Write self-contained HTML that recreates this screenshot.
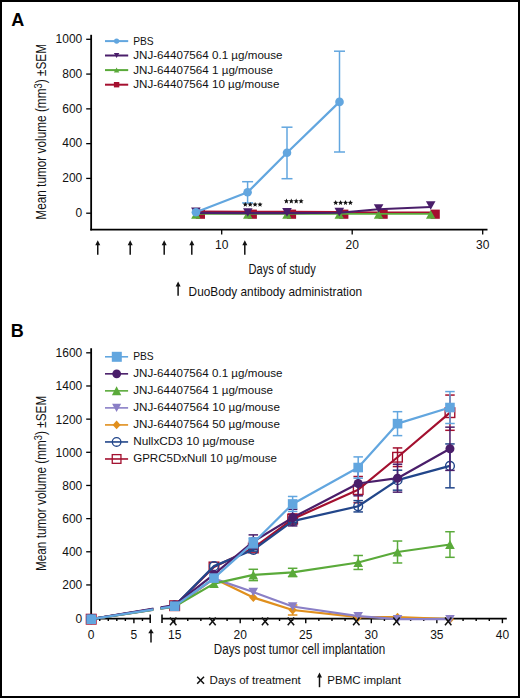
<!DOCTYPE html>
<html><head><meta charset="utf-8"><style>
html,body{margin:0;padding:0;background:#fff;}
svg{display:block;}
text{font-family:"Liberation Sans", sans-serif;}
</style></head><body>
<svg width="520" height="698" viewBox="0 0 520 698" style='font-family:"Liberation Sans", sans-serif'>
<rect x="0" y="0" width="520" height="698" fill="#fff"/>
<text x="11.20" y="25.50" font-size="18" text-anchor="start" font-weight="bold" fill="#000" >A</text>
<line x1="91.15" y1="34.80" x2="91.15" y2="230.40" stroke="#000" stroke-width="1.8" />
<line x1="90.30" y1="229.60" x2="487.50" y2="229.60" stroke="#000" stroke-width="1.9" />
<line x1="86.20" y1="213.20" x2="91.00" y2="213.20" stroke="#000" stroke-width="1.3" />
<text x="82.30" y="217.00" font-size="12" text-anchor="end" font-weight="normal" fill="#111" >0</text>
<line x1="86.20" y1="178.42" x2="91.00" y2="178.42" stroke="#000" stroke-width="1.3" />
<text x="82.30" y="182.22" font-size="12" text-anchor="end" font-weight="normal" fill="#111" >200</text>
<line x1="86.20" y1="143.64" x2="91.00" y2="143.64" stroke="#000" stroke-width="1.3" />
<text x="82.30" y="147.44" font-size="12" text-anchor="end" font-weight="normal" fill="#111" >400</text>
<line x1="86.20" y1="108.86" x2="91.00" y2="108.86" stroke="#000" stroke-width="1.3" />
<text x="82.30" y="112.66" font-size="12" text-anchor="end" font-weight="normal" fill="#111" >600</text>
<line x1="86.20" y1="74.08" x2="91.00" y2="74.08" stroke="#000" stroke-width="1.3" />
<text x="82.30" y="77.88" font-size="12" text-anchor="end" font-weight="normal" fill="#111" >800</text>
<line x1="86.20" y1="39.30" x2="91.00" y2="39.30" stroke="#000" stroke-width="1.3" />
<text x="82.30" y="43.10" font-size="12" text-anchor="end" font-weight="normal" fill="#111" >1000</text>
<line x1="221.70" y1="229.60" x2="221.70" y2="234.40" stroke="#000" stroke-width="1.3" />
<text x="221.70" y="249.10" font-size="12" text-anchor="middle" font-weight="normal" fill="#111" >10</text>
<line x1="352.20" y1="229.60" x2="352.20" y2="234.40" stroke="#000" stroke-width="1.3" />
<text x="352.20" y="249.10" font-size="12" text-anchor="middle" font-weight="normal" fill="#111" >20</text>
<line x1="482.70" y1="229.60" x2="482.70" y2="234.40" stroke="#000" stroke-width="1.3" />
<text x="482.70" y="249.10" font-size="12" text-anchor="middle" font-weight="normal" fill="#111" >30</text>
<line x1="97.75" y1="244.70" x2="97.75" y2="254.80" stroke="#111" stroke-width="1.5" />
<polygon points="97.75,240.20 100.25,245.20 95.25,245.20" fill="#111"/>
<line x1="130.20" y1="244.70" x2="130.20" y2="254.80" stroke="#111" stroke-width="1.5" />
<polygon points="130.20,240.20 132.70,245.20 127.70,245.20" fill="#111"/>
<line x1="164.20" y1="244.70" x2="164.20" y2="254.80" stroke="#111" stroke-width="1.5" />
<polygon points="164.20,240.20 166.70,245.20 161.70,245.20" fill="#111"/>
<line x1="191.80" y1="244.70" x2="191.80" y2="254.80" stroke="#111" stroke-width="1.5" />
<polygon points="191.80,240.20 194.30,245.20 189.30,245.20" fill="#111"/>
<line x1="244.80" y1="244.70" x2="244.80" y2="254.80" stroke="#111" stroke-width="1.5" />
<polygon points="244.80,240.20 247.30,245.20 242.30,245.20" fill="#111"/>
<text x="248.50" y="274.20" font-size="14" text-anchor="start" font-weight="normal" fill="#111" textLength="67.2" lengthAdjust="spacingAndGlyphs" >Days of study</text>
<line x1="178.10" y1="286.00" x2="178.10" y2="295.70" stroke="#111" stroke-width="1.5" />
<polygon points="178.10,281.50 180.60,286.50 175.60,286.50" fill="#111"/>
<text x="188.60" y="295.70" font-size="12.4" text-anchor="start" font-weight="normal" fill="#111" textLength="173.5" lengthAdjust="spacingAndGlyphs" >DuoBody antibody administration</text>
<g transform="translate(46.1,219.7) rotate(-90)"><text x="0" y="0" font-size="14.5" fill="#111" textLength="175.7" lengthAdjust="spacingAndGlyphs">Mean tumor volume (mm<tspan font-size="11.5" dy="-4.5">3</tspan><tspan dy="4.5">) ±SEM</tspan></text></g>
<line x1="105.00" y1="41.10" x2="128.20" y2="41.10" stroke="#62a6df" stroke-width="2" />
<circle cx="116.60" cy="41.10" r="2.6" fill="#62a6df"/>
<text x="133.20" y="44.70" font-size="11" text-anchor="start" font-weight="normal" fill="#111" textLength="20.5" lengthAdjust="spacingAndGlyphs" >PBS</text>
<line x1="105.00" y1="55.50" x2="128.20" y2="55.50" stroke="#4a1e6a" stroke-width="2" />
<polygon points="116.60,58.00 119.30,53.00 113.90,53.00" fill="#4a1e6a"/>
<text x="133.20" y="59.10" font-size="11" text-anchor="start" font-weight="normal" fill="#111" textLength="149.4" lengthAdjust="spacingAndGlyphs" >JNJ-64407564 0.1 µg/mouse</text>
<line x1="105.00" y1="70.10" x2="128.20" y2="70.10" stroke="#5aaa3a" stroke-width="2" />
<polygon points="116.60,67.60 119.30,72.60 113.90,72.60" fill="#5aaa3a"/>
<text x="133.20" y="73.70" font-size="11" text-anchor="start" font-weight="normal" fill="#111" textLength="139.8" lengthAdjust="spacingAndGlyphs" >JNJ-64407564 1 µg/mouse</text>
<line x1="105.00" y1="84.70" x2="128.20" y2="84.70" stroke="#a50f2f" stroke-width="2" />
<rect x="113.90" y="82.00" width="5.4" height="5.4" fill="#a50f2f"/>
<text x="133.20" y="88.30" font-size="11" text-anchor="start" font-weight="normal" fill="#111" textLength="146.2" lengthAdjust="spacingAndGlyphs" >JNJ-64407564 10 µg/mouse</text>
<polyline points="195.90,211.50 247.80,211.60 287.00,211.70 339.30,211.90 378.60,212.30 430.70,212.40" fill="none" stroke="#a50f2f" stroke-width="1.8" stroke-linejoin="round" />
<rect x="195.80" y="209.6" width="9.2" height="9.2" fill="#a50f2f"/>
<rect x="247.70" y="209.6" width="9.2" height="9.2" fill="#a50f2f"/>
<rect x="286.90" y="209.6" width="9.2" height="9.2" fill="#a50f2f"/>
<rect x="339.20" y="209.6" width="9.2" height="9.2" fill="#a50f2f"/>
<rect x="378.50" y="209.6" width="9.2" height="9.2" fill="#a50f2f"/>
<rect x="430.60" y="209.6" width="9.2" height="9.2" fill="#a50f2f"/>
<polyline points="195.90,213.90 247.80,213.90 287.00,213.90 339.30,213.90 378.60,213.90 430.70,213.90" fill="none" stroke="#5aaa3a" stroke-width="1.6" stroke-linejoin="round" />
<polygon points="195.90,210.2 200.65,218.8 191.15,218.8" fill="#5aaa3a"/>
<polygon points="247.80,210.2 252.55,218.8 243.05,218.8" fill="#5aaa3a"/>
<polygon points="287.00,210.2 291.75,218.8 282.25,218.8" fill="#5aaa3a"/>
<polygon points="339.30,210.2 344.05,218.8 334.55,218.8" fill="#5aaa3a"/>
<polygon points="378.60,210.2 383.35,218.8 373.85,218.8" fill="#5aaa3a"/>
<polygon points="430.70,210.2 435.45,218.8 425.95,218.8" fill="#5aaa3a"/>
<polyline points="195.90,212.90 247.80,213.10 287.00,213.10 339.30,212.80 378.60,209.20 430.70,207.00" fill="none" stroke="#4a1e6a" stroke-width="2.1" stroke-linejoin="round" />
<polygon points="191.10,207.50 200.70,207.50 195.90,216.10" fill="#4a1e6a"/>
<polygon points="243.00,208.20 252.60,208.20 247.80,216.80" fill="#4a1e6a"/>
<polygon points="282.20,208.10 291.80,208.10 287.00,216.70" fill="#4a1e6a"/>
<polygon points="334.50,207.80 344.10,207.80 339.30,216.40" fill="#4a1e6a"/>
<polygon points="373.80,204.20 383.40,204.20 378.60,212.80" fill="#4a1e6a"/>
<polygon points="425.90,201.20 435.50,201.20 430.70,209.80" fill="#4a1e6a"/>
<line x1="247.60" y1="181.70" x2="247.60" y2="202.90" stroke="#62a6df" stroke-width="1.5" />
<line x1="242.10" y1="181.70" x2="253.10" y2="181.70" stroke="#62a6df" stroke-width="1.5" />
<line x1="242.10" y1="202.90" x2="253.10" y2="202.90" stroke="#62a6df" stroke-width="1.5" />
<line x1="287.00" y1="127.20" x2="287.00" y2="178.70" stroke="#62a6df" stroke-width="1.5" />
<line x1="281.50" y1="127.20" x2="292.50" y2="127.20" stroke="#62a6df" stroke-width="1.5" />
<line x1="281.50" y1="178.70" x2="292.50" y2="178.70" stroke="#62a6df" stroke-width="1.5" />
<line x1="339.50" y1="51.20" x2="339.50" y2="152.00" stroke="#62a6df" stroke-width="1.5" />
<line x1="334.00" y1="51.20" x2="345.00" y2="51.20" stroke="#62a6df" stroke-width="1.5" />
<line x1="334.00" y1="152.00" x2="345.00" y2="152.00" stroke="#62a6df" stroke-width="1.5" />
<polyline points="195.90,212.30 247.60,192.30 287.00,152.80 339.50,101.90" fill="none" stroke="#62a6df" stroke-width="2.2" stroke-linejoin="round" />
<circle cx="195.90" cy="212.30" r="4.3" fill="#62a6df"/>
<circle cx="247.60" cy="192.30" r="4.3" fill="#62a6df"/>
<circle cx="287.00" cy="152.80" r="4.3" fill="#62a6df"/>
<circle cx="339.50" cy="101.90" r="4.3" fill="#62a6df"/>
<polygon points="245.30,201.90 246.01,203.62 247.87,203.77 246.46,204.98 246.89,206.78 245.30,205.81 243.71,206.78 244.14,204.98 242.73,203.77 244.59,203.62" fill="#111"/>
<polygon points="250.20,201.90 250.91,203.62 252.77,203.77 251.36,204.98 251.79,206.78 250.20,205.81 248.61,206.78 249.04,204.98 247.63,203.77 249.49,203.62" fill="#111"/>
<polygon points="255.10,201.90 255.81,203.62 257.67,203.77 256.26,204.98 256.69,206.78 255.10,205.81 253.51,206.78 253.94,204.98 252.53,203.77 254.39,203.62" fill="#111"/>
<polygon points="260.00,201.90 260.71,203.62 262.57,203.77 261.16,204.98 261.59,206.78 260.00,205.81 258.41,206.78 258.84,204.98 257.43,203.77 259.29,203.62" fill="#111"/>
<polygon points="286.40,198.50 287.11,200.22 288.97,200.37 287.56,201.58 287.99,203.38 286.40,202.41 284.81,203.38 285.24,201.58 283.83,200.37 285.69,200.22" fill="#111"/>
<polygon points="291.30,198.50 292.01,200.22 293.87,200.37 292.46,201.58 292.89,203.38 291.30,202.41 289.71,203.38 290.14,201.58 288.73,200.37 290.59,200.22" fill="#111"/>
<polygon points="296.20,198.50 296.91,200.22 298.77,200.37 297.36,201.58 297.79,203.38 296.20,202.41 294.61,203.38 295.04,201.58 293.63,200.37 295.49,200.22" fill="#111"/>
<polygon points="301.10,198.50 301.81,200.22 303.67,200.37 302.26,201.58 302.69,203.38 301.10,202.41 299.51,203.38 299.94,201.58 298.53,200.37 300.39,200.22" fill="#111"/>
<polygon points="335.70,200.10 336.41,201.82 338.27,201.97 336.86,203.18 337.29,204.98 335.70,204.02 334.11,204.98 334.54,203.18 333.13,201.97 334.99,201.82" fill="#111"/>
<polygon points="340.60,200.10 341.31,201.82 343.17,201.97 341.76,203.18 342.19,204.98 340.60,204.02 339.01,204.98 339.44,203.18 338.03,201.97 339.89,201.82" fill="#111"/>
<polygon points="345.50,200.10 346.21,201.82 348.07,201.97 346.66,203.18 347.09,204.98 345.50,204.02 343.91,204.98 344.34,203.18 342.93,201.97 344.79,201.82" fill="#111"/>
<polygon points="350.40,200.10 351.11,201.82 352.97,201.97 351.56,203.18 351.99,204.98 350.40,204.02 348.81,204.98 349.24,203.18 347.83,201.97 349.69,201.82" fill="#111"/>
<text x="10.70" y="337.00" font-size="18" text-anchor="start" font-weight="bold" fill="#000" >B</text>
<line x1="91.15" y1="348.20" x2="91.15" y2="619.00" stroke="#000" stroke-width="1.8" />
<line x1="86.20" y1="618.10" x2="91.00" y2="618.10" stroke="#000" stroke-width="1.3" />
<text x="82.30" y="622.50" font-size="12" text-anchor="end" font-weight="normal" fill="#111" >0</text>
<line x1="86.20" y1="584.94" x2="91.00" y2="584.94" stroke="#000" stroke-width="1.3" />
<text x="82.30" y="589.34" font-size="12" text-anchor="end" font-weight="normal" fill="#111" >200</text>
<line x1="86.20" y1="551.78" x2="91.00" y2="551.78" stroke="#000" stroke-width="1.3" />
<text x="82.30" y="556.18" font-size="12" text-anchor="end" font-weight="normal" fill="#111" >400</text>
<line x1="86.20" y1="518.62" x2="91.00" y2="518.62" stroke="#000" stroke-width="1.3" />
<text x="82.30" y="523.02" font-size="12" text-anchor="end" font-weight="normal" fill="#111" >600</text>
<line x1="86.20" y1="485.46" x2="91.00" y2="485.46" stroke="#000" stroke-width="1.3" />
<text x="82.30" y="489.86" font-size="12" text-anchor="end" font-weight="normal" fill="#111" >800</text>
<line x1="86.20" y1="452.30" x2="91.00" y2="452.30" stroke="#000" stroke-width="1.3" />
<text x="82.30" y="456.70" font-size="12" text-anchor="end" font-weight="normal" fill="#111" >1000</text>
<line x1="86.20" y1="419.14" x2="91.00" y2="419.14" stroke="#000" stroke-width="1.3" />
<text x="82.30" y="423.54" font-size="12" text-anchor="end" font-weight="normal" fill="#111" >1200</text>
<line x1="86.20" y1="385.98" x2="91.00" y2="385.98" stroke="#000" stroke-width="1.3" />
<text x="82.30" y="390.38" font-size="12" text-anchor="end" font-weight="normal" fill="#111" >1400</text>
<line x1="86.20" y1="352.82" x2="91.00" y2="352.82" stroke="#000" stroke-width="1.3" />
<text x="82.30" y="357.22" font-size="12" text-anchor="end" font-weight="normal" fill="#111" >1600</text>
<line x1="90.30" y1="618.70" x2="150.20" y2="618.70" stroke="#000" stroke-width="1.8" />
<line x1="150.20" y1="614.40" x2="150.20" y2="623.10" stroke="#000" stroke-width="1.5" />
<line x1="99.74" y1="618.70" x2="99.74" y2="621.00" stroke="#000" stroke-width="1.4" />
<line x1="108.28" y1="618.70" x2="108.28" y2="621.00" stroke="#000" stroke-width="1.4" />
<line x1="116.82" y1="618.70" x2="116.82" y2="621.00" stroke="#000" stroke-width="1.4" />
<line x1="125.36" y1="618.70" x2="125.36" y2="621.00" stroke="#000" stroke-width="1.4" />
<line x1="133.90" y1="618.70" x2="133.90" y2="623.20" stroke="#000" stroke-width="1.4" />
<line x1="142.44" y1="618.70" x2="142.44" y2="621.00" stroke="#000" stroke-width="1.4" />
<line x1="91.20" y1="618.70" x2="91.20" y2="623.20" stroke="#000" stroke-width="1.4" />
<line x1="162.00" y1="618.70" x2="506.80" y2="618.70" stroke="#000" stroke-width="1.8" />
<line x1="162.00" y1="614.40" x2="162.00" y2="623.10" stroke="#000" stroke-width="1.5" />
<line x1="174.65" y1="618.70" x2="174.65" y2="623.20" stroke="#000" stroke-width="1.4" />
<line x1="187.76" y1="618.70" x2="187.76" y2="621.00" stroke="#000" stroke-width="1.4" />
<line x1="200.87" y1="618.70" x2="200.87" y2="621.00" stroke="#000" stroke-width="1.4" />
<line x1="213.98" y1="618.70" x2="213.98" y2="621.00" stroke="#000" stroke-width="1.4" />
<line x1="227.09" y1="618.70" x2="227.09" y2="621.00" stroke="#000" stroke-width="1.4" />
<line x1="240.20" y1="618.70" x2="240.20" y2="623.20" stroke="#000" stroke-width="1.4" />
<line x1="253.31" y1="618.70" x2="253.31" y2="621.00" stroke="#000" stroke-width="1.4" />
<line x1="266.42" y1="618.70" x2="266.42" y2="621.00" stroke="#000" stroke-width="1.4" />
<line x1="279.53" y1="618.70" x2="279.53" y2="621.00" stroke="#000" stroke-width="1.4" />
<line x1="292.64" y1="618.70" x2="292.64" y2="621.00" stroke="#000" stroke-width="1.4" />
<line x1="305.75" y1="618.70" x2="305.75" y2="623.20" stroke="#000" stroke-width="1.4" />
<line x1="318.86" y1="618.70" x2="318.86" y2="621.00" stroke="#000" stroke-width="1.4" />
<line x1="331.97" y1="618.70" x2="331.97" y2="621.00" stroke="#000" stroke-width="1.4" />
<line x1="345.08" y1="618.70" x2="345.08" y2="621.00" stroke="#000" stroke-width="1.4" />
<line x1="358.19" y1="618.70" x2="358.19" y2="621.00" stroke="#000" stroke-width="1.4" />
<line x1="371.30" y1="618.70" x2="371.30" y2="623.20" stroke="#000" stroke-width="1.4" />
<line x1="384.41" y1="618.70" x2="384.41" y2="621.00" stroke="#000" stroke-width="1.4" />
<line x1="397.52" y1="618.70" x2="397.52" y2="621.00" stroke="#000" stroke-width="1.4" />
<line x1="410.63" y1="618.70" x2="410.63" y2="621.00" stroke="#000" stroke-width="1.4" />
<line x1="423.74" y1="618.70" x2="423.74" y2="621.00" stroke="#000" stroke-width="1.4" />
<line x1="436.85" y1="618.70" x2="436.85" y2="623.20" stroke="#000" stroke-width="1.4" />
<line x1="449.96" y1="618.70" x2="449.96" y2="621.00" stroke="#000" stroke-width="1.4" />
<line x1="463.07" y1="618.70" x2="463.07" y2="621.00" stroke="#000" stroke-width="1.4" />
<line x1="476.18" y1="618.70" x2="476.18" y2="621.00" stroke="#000" stroke-width="1.4" />
<line x1="489.29" y1="618.70" x2="489.29" y2="621.00" stroke="#000" stroke-width="1.4" />
<line x1="502.40" y1="618.70" x2="502.40" y2="623.20" stroke="#000" stroke-width="1.4" />
<text x="91.20" y="638.70" font-size="12" text-anchor="middle" font-weight="normal" fill="#111" >0</text>
<text x="133.90" y="638.70" font-size="12" text-anchor="middle" font-weight="normal" fill="#111" >5</text>
<text x="174.65" y="638.70" font-size="12" text-anchor="middle" font-weight="normal" fill="#111" >15</text>
<text x="240.20" y="638.70" font-size="12" text-anchor="middle" font-weight="normal" fill="#111" >20</text>
<text x="305.75" y="638.70" font-size="12" text-anchor="middle" font-weight="normal" fill="#111" >25</text>
<text x="371.30" y="638.70" font-size="12" text-anchor="middle" font-weight="normal" fill="#111" >30</text>
<text x="436.85" y="638.70" font-size="12" text-anchor="middle" font-weight="normal" fill="#111" >35</text>
<text x="502.40" y="638.70" font-size="12" text-anchor="middle" font-weight="normal" fill="#111" >40</text>
<line x1="151.00" y1="632.70" x2="151.00" y2="642.60" stroke="#111" stroke-width="1.5" />
<polygon points="151.00,628.70 153.70,633.20 148.30,633.20" fill="#111"/>
<text x="213.80" y="654.20" font-size="14" text-anchor="start" font-weight="normal" fill="#111" textLength="171.4" lengthAdjust="spacingAndGlyphs" >Days post tumor cell implantation</text>
<line x1="197.20" y1="676.70" x2="204.00" y2="683.80" stroke="#111" stroke-width="1.5" />
<line x1="204.00" y1="676.70" x2="197.20" y2="683.80" stroke="#111" stroke-width="1.5" />
<text x="209.60" y="683.90" font-size="11.5" text-anchor="start" font-weight="normal" fill="#111" textLength="91.2" lengthAdjust="spacingAndGlyphs" >Days of treatment</text>
<line x1="319.50" y1="676.90" x2="319.50" y2="687.20" stroke="#111" stroke-width="1.5" />
<polygon points="319.50,672.40 322.00,677.40 317.00,677.40" fill="#111"/>
<text x="327.30" y="683.60" font-size="11.5" text-anchor="start" font-weight="normal" fill="#111" textLength="73.7" lengthAdjust="spacingAndGlyphs" >PBMC implant</text>
<g transform="translate(46.2,571.1) rotate(-90)"><text x="0" y="0" font-size="14.5" fill="#111" textLength="175.4" lengthAdjust="spacingAndGlyphs">Mean tumor volume (mm<tspan font-size="11.5" dy="-4.5">3</tspan><tspan dy="4.5">) ±SEM</tspan></text></g>
<line x1="105.00" y1="356.80" x2="128.10" y2="356.80" stroke="#62a6df" stroke-width="1.6" />
<rect x="111.80" y="351.80" width="10" height="10" fill="#62a6df"/>
<text x="133.20" y="360.10" font-size="11" text-anchor="start" font-weight="normal" fill="#111" textLength="20.5" lengthAdjust="spacingAndGlyphs" >PBS</text>
<line x1="105.00" y1="373.83" x2="128.10" y2="373.83" stroke="#4a1e6a" stroke-width="1.6" />
<circle cx="116.70" cy="373.83" r="4.4" fill="#4a1e6a"/>
<text x="133.20" y="377.13" font-size="11" text-anchor="start" font-weight="normal" fill="#111" textLength="149.4" lengthAdjust="spacingAndGlyphs" >JNJ-64407564 0.1 µg/mouse</text>
<line x1="105.00" y1="390.86" x2="128.10" y2="390.86" stroke="#5aaa3a" stroke-width="1.6" />
<polygon points="116.60,386.36 121.30,395.36 111.90,395.36" fill="#5aaa3a"/>
<text x="133.20" y="394.16" font-size="11" text-anchor="start" font-weight="normal" fill="#111" textLength="139.8" lengthAdjust="spacingAndGlyphs" >JNJ-64407564 1 µg/mouse</text>
<line x1="105.00" y1="407.89" x2="128.10" y2="407.89" stroke="#8a7fc6" stroke-width="1.6" />
<polygon points="116.60,412.09 121.10,403.69 112.10,403.69" fill="#8a7fc6"/>
<text x="133.20" y="411.19" font-size="11" text-anchor="start" font-weight="normal" fill="#111" textLength="146.7" lengthAdjust="spacingAndGlyphs" >JNJ-64407564 10 µg/mouse</text>
<line x1="105.00" y1="424.92" x2="128.10" y2="424.92" stroke="#e08f1d" stroke-width="1.6" />
<polygon points="116.60,420.52 120.60,424.92 116.60,429.32 112.60,424.92" fill="#e08f1d"/>
<text x="133.20" y="428.22" font-size="11" text-anchor="start" font-weight="normal" fill="#111" textLength="146.7" lengthAdjust="spacingAndGlyphs" >JNJ-64407564 50 µg/mouse</text>
<line x1="105.00" y1="441.95" x2="128.10" y2="441.95" stroke="#22468a" stroke-width="1.6" />
<circle cx="116.60" cy="441.95" r="4.3" fill="none" stroke="#22468a" stroke-width="1.3"/>
<text x="133.20" y="445.25" font-size="11" text-anchor="start" font-weight="normal" fill="#111" textLength="121.3" lengthAdjust="spacingAndGlyphs" >NullxCD3 10 µg/mouse</text>
<line x1="105.00" y1="458.98" x2="128.10" y2="458.98" stroke="#a3102f" stroke-width="1.6" />
<rect x="112.25" y="454.63" width="8.7" height="8.7" fill="none" stroke="#a3102f" stroke-width="1.3"/>
<text x="133.20" y="462.28" font-size="11" text-anchor="start" font-weight="normal" fill="#111" textLength="143.7" lengthAdjust="spacingAndGlyphs" >GPRC5DxNull 10 µg/mouse</text>
<defs><clipPath id="brk"><rect x="0" y="300" width="153.3" height="398"/><rect x="160.5" y="300" width="360" height="398"/></clipPath></defs>
<line x1="253.31" y1="546.68" x2="253.31" y2="549.34" stroke="#a3102f" stroke-width="1.5" />
<line x1="248.56" y1="546.68" x2="258.06" y2="546.68" stroke="#a3102f" stroke-width="1.5" />
<line x1="248.56" y1="549.34" x2="258.06" y2="549.34" stroke="#a3102f" stroke-width="1.5" />
<line x1="292.64" y1="514.10" x2="292.64" y2="524.07" stroke="#a3102f" stroke-width="1.5" />
<line x1="287.89" y1="514.10" x2="297.39" y2="514.10" stroke="#a3102f" stroke-width="1.5" />
<line x1="287.89" y1="524.07" x2="297.39" y2="524.07" stroke="#a3102f" stroke-width="1.5" />
<line x1="358.19" y1="476.52" x2="358.19" y2="502.79" stroke="#a3102f" stroke-width="1.5" />
<line x1="353.44" y1="476.52" x2="362.94" y2="476.52" stroke="#a3102f" stroke-width="1.5" />
<line x1="353.44" y1="502.79" x2="362.94" y2="502.79" stroke="#a3102f" stroke-width="1.5" />
<line x1="397.52" y1="447.93" x2="397.52" y2="466.55" stroke="#a3102f" stroke-width="1.5" />
<line x1="392.77" y1="447.93" x2="402.27" y2="447.93" stroke="#a3102f" stroke-width="1.5" />
<line x1="392.77" y1="466.55" x2="402.27" y2="466.55" stroke="#a3102f" stroke-width="1.5" />
<line x1="449.96" y1="395.06" x2="449.96" y2="430.31" stroke="#a3102f" stroke-width="1.5" />
<line x1="445.21" y1="395.06" x2="454.71" y2="395.06" stroke="#a3102f" stroke-width="1.5" />
<line x1="445.21" y1="430.31" x2="454.71" y2="430.31" stroke="#a3102f" stroke-width="1.5" />
<g clip-path="url(#brk)">
<polyline points="91.20,619.20 174.65,605.70 213.98,566.96 253.31,548.01 292.64,519.08 358.19,489.66 397.52,457.24 449.96,412.68" fill="none" stroke="#a3102f" stroke-width="2.2" stroke-linejoin="round" />
</g>
<rect x="86.40" y="614.40" width="9.6" height="9.6" fill="none" stroke="#a3102f" stroke-width="1.4"/>
<rect x="169.85" y="600.90" width="9.6" height="9.6" fill="none" stroke="#a3102f" stroke-width="1.4"/>
<rect x="209.18" y="562.16" width="9.6" height="9.6" fill="none" stroke="#a3102f" stroke-width="1.4"/>
<rect x="248.51" y="543.21" width="9.6" height="9.6" fill="none" stroke="#a3102f" stroke-width="1.4"/>
<rect x="287.84" y="514.28" width="9.6" height="9.6" fill="none" stroke="#a3102f" stroke-width="1.4"/>
<rect x="353.39" y="484.86" width="9.6" height="9.6" fill="none" stroke="#a3102f" stroke-width="1.4"/>
<rect x="392.72" y="452.44" width="9.6" height="9.6" fill="none" stroke="#a3102f" stroke-width="1.4"/>
<rect x="445.16" y="407.88" width="9.6" height="9.6" fill="none" stroke="#a3102f" stroke-width="1.4"/>
<line x1="253.31" y1="548.51" x2="253.31" y2="551.17" stroke="#22468a" stroke-width="1.5" />
<line x1="248.56" y1="548.51" x2="258.06" y2="548.51" stroke="#22468a" stroke-width="1.5" />
<line x1="248.56" y1="551.17" x2="258.06" y2="551.17" stroke="#22468a" stroke-width="1.5" />
<line x1="292.64" y1="519.41" x2="292.64" y2="522.74" stroke="#22468a" stroke-width="1.5" />
<line x1="287.89" y1="519.41" x2="297.39" y2="519.41" stroke="#22468a" stroke-width="1.5" />
<line x1="287.89" y1="522.74" x2="297.39" y2="522.74" stroke="#22468a" stroke-width="1.5" />
<line x1="358.19" y1="500.63" x2="358.19" y2="511.93" stroke="#22468a" stroke-width="1.5" />
<line x1="353.44" y1="500.63" x2="362.94" y2="500.63" stroke="#22468a" stroke-width="1.5" />
<line x1="353.44" y1="511.93" x2="362.94" y2="511.93" stroke="#22468a" stroke-width="1.5" />
<line x1="397.52" y1="470.20" x2="397.52" y2="490.16" stroke="#22468a" stroke-width="1.5" />
<line x1="392.77" y1="470.20" x2="402.27" y2="470.20" stroke="#22468a" stroke-width="1.5" />
<line x1="392.77" y1="490.16" x2="402.27" y2="490.16" stroke="#22468a" stroke-width="1.5" />
<line x1="449.96" y1="443.94" x2="449.96" y2="487.83" stroke="#22468a" stroke-width="1.5" />
<line x1="445.21" y1="443.94" x2="454.71" y2="443.94" stroke="#22468a" stroke-width="1.5" />
<line x1="445.21" y1="487.83" x2="454.71" y2="487.83" stroke="#22468a" stroke-width="1.5" />
<g clip-path="url(#brk)">
<polyline points="91.20,619.20 174.65,605.87 213.98,566.13 253.31,549.84 292.64,521.08 358.19,506.28 397.52,480.18 449.96,465.88" fill="none" stroke="#22468a" stroke-width="2.2" stroke-linejoin="round" />
</g>
<circle cx="91.20" cy="619.20" r="4.4" fill="none" stroke="#22468a" stroke-width="1.4"/>
<circle cx="174.65" cy="605.87" r="4.4" fill="none" stroke="#22468a" stroke-width="1.4"/>
<circle cx="213.98" cy="566.13" r="4.4" fill="none" stroke="#22468a" stroke-width="1.4"/>
<circle cx="253.31" cy="549.84" r="4.4" fill="none" stroke="#22468a" stroke-width="1.4"/>
<circle cx="292.64" cy="521.08" r="4.4" fill="none" stroke="#22468a" stroke-width="1.4"/>
<circle cx="358.19" cy="506.28" r="4.4" fill="none" stroke="#22468a" stroke-width="1.4"/>
<circle cx="397.52" cy="480.18" r="4.4" fill="none" stroke="#22468a" stroke-width="1.4"/>
<circle cx="449.96" cy="465.88" r="4.4" fill="none" stroke="#22468a" stroke-width="1.4"/>
<line x1="292.64" y1="605.03" x2="292.64" y2="615.01" stroke="#e08f1d" stroke-width="1.5" />
<line x1="287.89" y1="605.03" x2="297.39" y2="605.03" stroke="#e08f1d" stroke-width="1.5" />
<line x1="287.89" y1="615.01" x2="297.39" y2="615.01" stroke="#e08f1d" stroke-width="1.5" />
<g clip-path="url(#brk)">
<polyline points="91.20,619.20 174.65,606.53 213.98,578.60 253.31,597.55 292.64,610.02 358.19,617.17 397.52,617.17 449.96,619.20" fill="none" stroke="#e08f1d" stroke-width="2.2" stroke-linejoin="round" />
</g>
<polygon points="91.20,614.70 95.40,619.20 91.20,623.70 87.00,619.20" fill="#e08f1d"/>
<polygon points="174.65,602.03 178.85,606.53 174.65,611.03 170.45,606.53" fill="#e08f1d"/>
<polygon points="213.98,574.10 218.18,578.60 213.98,583.10 209.78,578.60" fill="#e08f1d"/>
<polygon points="253.31,593.05 257.51,597.55 253.31,602.05 249.11,597.55" fill="#e08f1d"/>
<polygon points="292.64,605.52 296.84,610.02 292.64,614.52 288.44,610.02" fill="#e08f1d"/>
<polygon points="358.19,612.67 362.39,617.17 358.19,621.67 353.99,617.17" fill="#e08f1d"/>
<polygon points="397.52,612.67 401.72,617.17 397.52,621.67 393.32,617.17" fill="#e08f1d"/>
<polygon points="449.96,614.70 454.16,619.20 449.96,623.70 445.76,619.20" fill="#e08f1d"/>
<g clip-path="url(#brk)">
<polyline points="91.20,619.20 174.65,606.70 213.98,578.60 253.31,592.07 292.64,606.53 358.19,616.17 397.52,619.20 449.96,619.20" fill="none" stroke="#8a7fc6" stroke-width="2.2" stroke-linejoin="round" />
</g>
<polygon points="91.20,623.40 96.00,615.00 86.40,615.00" fill="#8a7fc6"/>
<polygon points="174.65,610.90 179.45,602.50 169.85,602.50" fill="#8a7fc6"/>
<polygon points="213.98,582.80 218.78,574.40 209.18,574.40" fill="#8a7fc6"/>
<polygon points="253.31,596.27 258.11,587.87 248.51,587.87" fill="#8a7fc6"/>
<polygon points="292.64,610.73 297.44,602.33 287.84,602.33" fill="#8a7fc6"/>
<polygon points="358.19,620.37 362.99,611.97 353.39,611.97" fill="#8a7fc6"/>
<polygon points="397.52,623.40 402.32,615.00 392.72,615.00" fill="#8a7fc6"/>
<polygon points="449.96,623.40 454.76,615.00 445.16,615.00" fill="#8a7fc6"/>
<line x1="253.31" y1="569.29" x2="253.31" y2="580.60" stroke="#5aaa3a" stroke-width="1.5" />
<line x1="248.56" y1="569.29" x2="258.06" y2="569.29" stroke="#5aaa3a" stroke-width="1.5" />
<line x1="248.56" y1="580.60" x2="258.06" y2="580.60" stroke="#5aaa3a" stroke-width="1.5" />
<line x1="292.64" y1="568.29" x2="292.64" y2="576.61" stroke="#5aaa3a" stroke-width="1.5" />
<line x1="287.89" y1="568.29" x2="297.39" y2="568.29" stroke="#5aaa3a" stroke-width="1.5" />
<line x1="287.89" y1="576.61" x2="297.39" y2="576.61" stroke="#5aaa3a" stroke-width="1.5" />
<line x1="358.19" y1="555.49" x2="358.19" y2="569.46" stroke="#5aaa3a" stroke-width="1.5" />
<line x1="353.44" y1="555.49" x2="362.94" y2="555.49" stroke="#5aaa3a" stroke-width="1.5" />
<line x1="353.44" y1="569.46" x2="362.94" y2="569.46" stroke="#5aaa3a" stroke-width="1.5" />
<line x1="397.52" y1="541.03" x2="397.52" y2="562.97" stroke="#5aaa3a" stroke-width="1.5" />
<line x1="392.77" y1="541.03" x2="402.27" y2="541.03" stroke="#5aaa3a" stroke-width="1.5" />
<line x1="392.77" y1="562.97" x2="402.27" y2="562.97" stroke="#5aaa3a" stroke-width="1.5" />
<line x1="449.96" y1="531.72" x2="449.96" y2="557.32" stroke="#5aaa3a" stroke-width="1.5" />
<line x1="445.21" y1="531.72" x2="454.71" y2="531.72" stroke="#5aaa3a" stroke-width="1.5" />
<line x1="445.21" y1="557.32" x2="454.71" y2="557.32" stroke="#5aaa3a" stroke-width="1.5" />
<g clip-path="url(#brk)">
<polyline points="91.20,619.20 174.65,606.53 213.98,583.59 253.31,574.94 292.64,572.45 358.19,562.47 397.52,552.00 449.96,544.52" fill="none" stroke="#5aaa3a" stroke-width="2.2" stroke-linejoin="round" />
</g>
<polygon points="91.20,614.70 96.00,623.70 86.40,623.70" fill="#5aaa3a"/>
<polygon points="174.65,602.03 179.45,611.03 169.85,611.03" fill="#5aaa3a"/>
<polygon points="213.98,579.09 218.78,588.09 209.18,588.09" fill="#5aaa3a"/>
<polygon points="253.31,570.44 258.11,579.44 248.51,579.44" fill="#5aaa3a"/>
<polygon points="292.64,567.95 297.44,576.95 287.84,576.95" fill="#5aaa3a"/>
<polygon points="358.19,557.97 362.99,566.97 353.39,566.97" fill="#5aaa3a"/>
<polygon points="397.52,547.50 402.32,556.50 392.72,556.50" fill="#5aaa3a"/>
<polygon points="449.96,540.02 454.76,549.02 445.16,549.02" fill="#5aaa3a"/>
<line x1="253.31" y1="534.88" x2="253.31" y2="548.18" stroke="#4a1e6a" stroke-width="1.5" />
<line x1="248.56" y1="534.88" x2="258.06" y2="534.88" stroke="#4a1e6a" stroke-width="1.5" />
<line x1="248.56" y1="548.18" x2="258.06" y2="548.18" stroke="#4a1e6a" stroke-width="1.5" />
<line x1="292.64" y1="509.27" x2="292.64" y2="525.90" stroke="#4a1e6a" stroke-width="1.5" />
<line x1="287.89" y1="509.27" x2="297.39" y2="509.27" stroke="#4a1e6a" stroke-width="1.5" />
<line x1="287.89" y1="525.90" x2="297.39" y2="525.90" stroke="#4a1e6a" stroke-width="1.5" />
<line x1="358.19" y1="471.20" x2="358.19" y2="495.81" stroke="#4a1e6a" stroke-width="1.5" />
<line x1="353.44" y1="471.20" x2="362.94" y2="471.20" stroke="#4a1e6a" stroke-width="1.5" />
<line x1="353.44" y1="495.81" x2="362.94" y2="495.81" stroke="#4a1e6a" stroke-width="1.5" />
<line x1="397.52" y1="464.22" x2="397.52" y2="492.15" stroke="#4a1e6a" stroke-width="1.5" />
<line x1="392.77" y1="464.22" x2="402.27" y2="464.22" stroke="#4a1e6a" stroke-width="1.5" />
<line x1="392.77" y1="492.15" x2="402.27" y2="492.15" stroke="#4a1e6a" stroke-width="1.5" />
<line x1="449.96" y1="427.15" x2="449.96" y2="470.37" stroke="#4a1e6a" stroke-width="1.5" />
<line x1="445.21" y1="427.15" x2="454.71" y2="427.15" stroke="#4a1e6a" stroke-width="1.5" />
<line x1="445.21" y1="470.37" x2="454.71" y2="470.37" stroke="#4a1e6a" stroke-width="1.5" />
<g clip-path="url(#brk)">
<polyline points="91.20,619.20 174.65,605.03 213.98,574.44 253.31,541.53 292.64,517.59 358.19,483.50 397.52,478.19 449.96,448.76" fill="none" stroke="#4a1e6a" stroke-width="2.2" stroke-linejoin="round" />
</g>
<circle cx="91.20" cy="619.20" r="4.5" fill="#4a1e6a"/>
<circle cx="174.65" cy="605.03" r="4.5" fill="#4a1e6a"/>
<circle cx="213.98" cy="574.44" r="4.5" fill="#4a1e6a"/>
<circle cx="253.31" cy="541.53" r="4.5" fill="#4a1e6a"/>
<circle cx="292.64" cy="517.59" r="4.5" fill="#4a1e6a"/>
<circle cx="358.19" cy="483.50" r="4.5" fill="#4a1e6a"/>
<circle cx="397.52" cy="478.19" r="4.5" fill="#4a1e6a"/>
<circle cx="449.96" cy="448.76" r="4.5" fill="#4a1e6a"/>
<line x1="253.31" y1="537.87" x2="253.31" y2="547.84" stroke="#62a6df" stroke-width="1.5" />
<line x1="248.56" y1="537.87" x2="258.06" y2="537.87" stroke="#62a6df" stroke-width="1.5" />
<line x1="248.56" y1="547.84" x2="258.06" y2="547.84" stroke="#62a6df" stroke-width="1.5" />
<line x1="292.64" y1="496.47" x2="292.64" y2="511.44" stroke="#62a6df" stroke-width="1.5" />
<line x1="287.89" y1="496.47" x2="297.39" y2="496.47" stroke="#62a6df" stroke-width="1.5" />
<line x1="287.89" y1="511.44" x2="297.39" y2="511.44" stroke="#62a6df" stroke-width="1.5" />
<line x1="358.19" y1="456.90" x2="358.19" y2="478.18" stroke="#62a6df" stroke-width="1.5" />
<line x1="353.44" y1="456.90" x2="362.94" y2="456.90" stroke="#62a6df" stroke-width="1.5" />
<line x1="353.44" y1="478.18" x2="362.94" y2="478.18" stroke="#62a6df" stroke-width="1.5" />
<line x1="397.52" y1="411.68" x2="397.52" y2="435.62" stroke="#62a6df" stroke-width="1.5" />
<line x1="392.77" y1="411.68" x2="402.27" y2="411.68" stroke="#62a6df" stroke-width="1.5" />
<line x1="392.77" y1="435.62" x2="402.27" y2="435.62" stroke="#62a6df" stroke-width="1.5" />
<line x1="449.96" y1="391.57" x2="449.96" y2="423.49" stroke="#62a6df" stroke-width="1.5" />
<line x1="445.21" y1="391.57" x2="454.71" y2="391.57" stroke="#62a6df" stroke-width="1.5" />
<line x1="445.21" y1="423.49" x2="454.71" y2="423.49" stroke="#62a6df" stroke-width="1.5" />
<g clip-path="url(#brk)">
<polyline points="91.20,619.20 174.65,606.20 213.98,578.10 253.31,542.86 292.64,503.95 358.19,467.54 397.52,423.65 449.96,407.53" fill="none" stroke="#62a6df" stroke-width="2.2" stroke-linejoin="round" />
</g>
<rect x="86.40" y="614.40" width="9.6" height="9.6" fill="#62a6df"/>
<rect x="169.85" y="601.40" width="9.6" height="9.6" fill="#62a6df"/>
<rect x="209.18" y="573.30" width="9.6" height="9.6" fill="#62a6df"/>
<rect x="248.51" y="538.06" width="9.6" height="9.6" fill="#62a6df"/>
<rect x="287.84" y="499.15" width="9.6" height="9.6" fill="#62a6df"/>
<rect x="353.39" y="462.74" width="9.6" height="9.6" fill="#62a6df"/>
<rect x="392.72" y="418.85" width="9.6" height="9.6" fill="#62a6df"/>
<rect x="445.16" y="402.73" width="9.6" height="9.6" fill="#62a6df"/>
<line x1="170.00" y1="617.40" x2="176.40" y2="625.20" stroke="#111" stroke-width="1.5" />
<line x1="176.40" y1="617.40" x2="170.00" y2="625.20" stroke="#111" stroke-width="1.5" />
<line x1="209.30" y1="617.40" x2="215.70" y2="625.20" stroke="#111" stroke-width="1.5" />
<line x1="215.70" y1="617.40" x2="209.30" y2="625.20" stroke="#111" stroke-width="1.5" />
<line x1="261.90" y1="617.40" x2="268.30" y2="625.20" stroke="#111" stroke-width="1.5" />
<line x1="268.30" y1="617.40" x2="261.90" y2="625.20" stroke="#111" stroke-width="1.5" />
<line x1="287.70" y1="617.40" x2="294.10" y2="625.20" stroke="#111" stroke-width="1.5" />
<line x1="294.10" y1="617.40" x2="287.70" y2="625.20" stroke="#111" stroke-width="1.5" />
<line x1="353.10" y1="617.40" x2="359.50" y2="625.20" stroke="#111" stroke-width="1.5" />
<line x1="359.50" y1="617.40" x2="353.10" y2="625.20" stroke="#111" stroke-width="1.5" />
<line x1="393.30" y1="617.40" x2="399.70" y2="625.20" stroke="#111" stroke-width="1.5" />
<line x1="399.70" y1="617.40" x2="393.30" y2="625.20" stroke="#111" stroke-width="1.5" />
<line x1="445.00" y1="617.40" x2="451.40" y2="625.20" stroke="#111" stroke-width="1.5" />
<line x1="451.40" y1="617.40" x2="445.00" y2="625.20" stroke="#111" stroke-width="1.5" />
<rect x="1" y="1" width="518" height="696" fill="none" stroke="#000" stroke-width="2"/>
</svg>
</body></html>
